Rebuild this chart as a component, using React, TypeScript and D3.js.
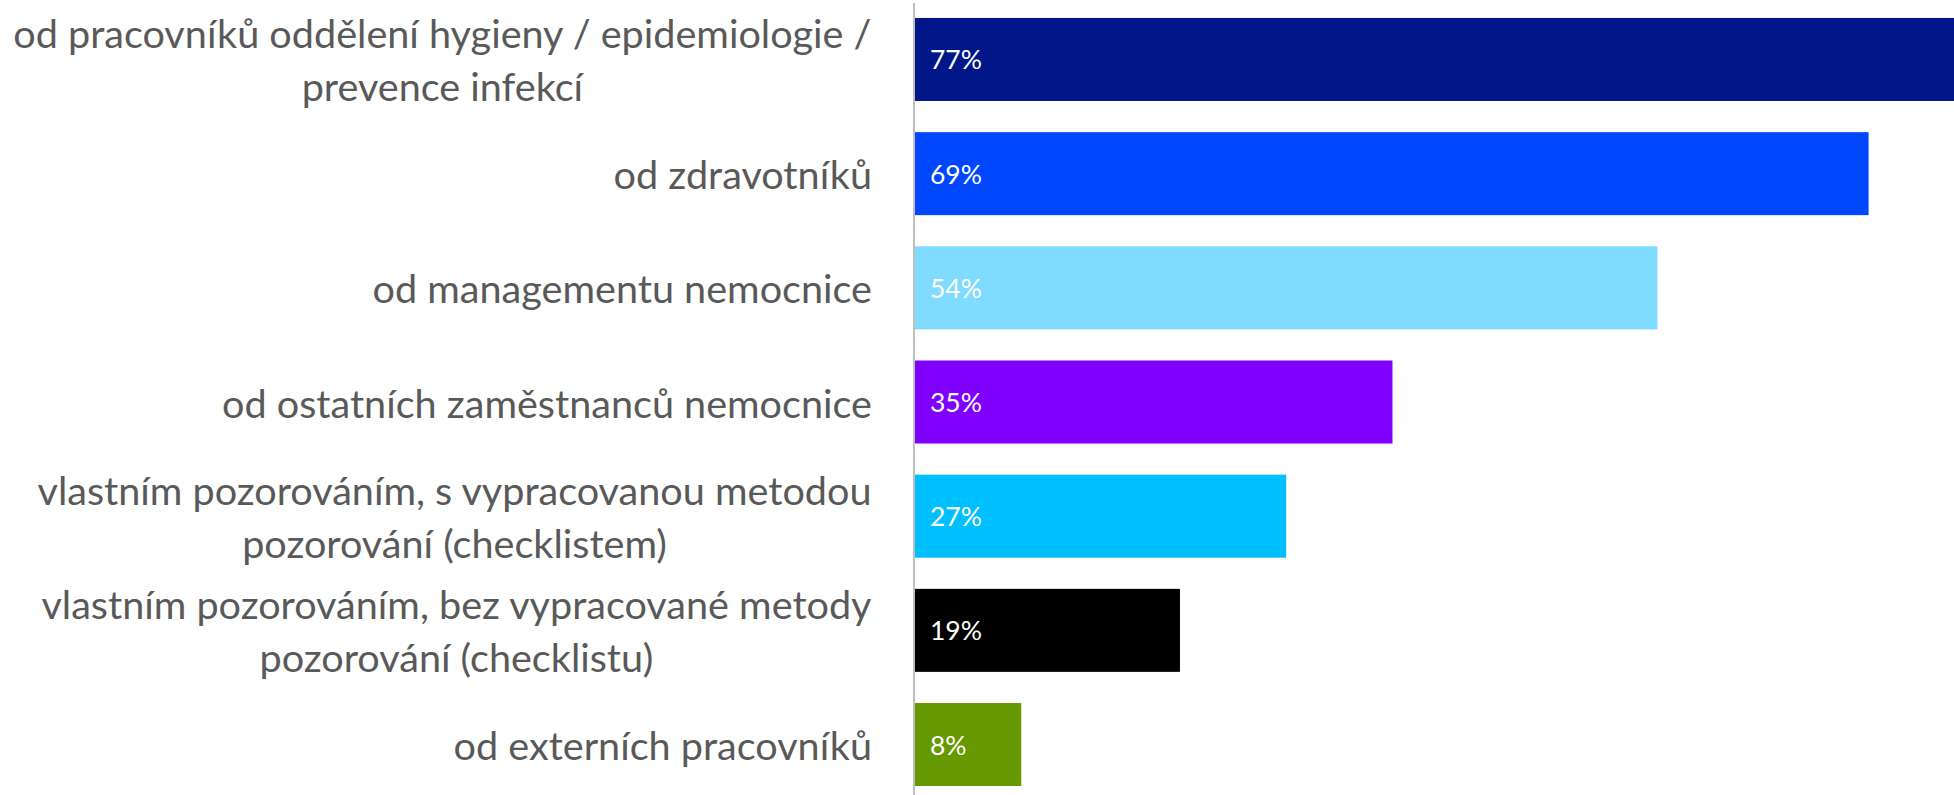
import React from "react";
import * as d3 from "d3";

const categories: string[] = [
  "od pracovníků oddělení hygieny / epidemiologie /\nprevence infekcí",
  "od zdravotníků",
  "od managementu nemocnice",
  "od ostatních zaměstnanců nemocnice",
  "vlastním pozorováním, s vypracovanou metodou\npozorování (checklistem)",
  "vlastním pozorováním, bez vypracované metody\npozorování (checklistu)",
  "od externích pracovníků",
];
const values: number[] = [77, 69.1, 53.8, 34.6, 26.9, 19.2, 7.7];
const valueLabels: string[] = ["77%", "69%", "54%", "35%", "27%", "19%", "8%"];
const colors: string[] = ["#001689", "#0047FF", "#7FDBFF", "#8000FF", "#00BFFF", "#000000", "#669900"];

const W = 1954;
const H = 795;
const FONT = "Lato, 'Open Sans', sans-serif";
const LABEL_SIZE = 39.6;

let ctx: CanvasRenderingContext2D | null = null;
function measure(s: string): number {
  if (!ctx) {
    const c = document.createElement("canvas");
    ctx = c.getContext("2d");
  }
  if (!ctx) return s.length * LABEL_SIZE * 0.45;
  ctx.font = `${LABEL_SIZE}px Lato, 'Open Sans', sans-serif`;
  return ctx.measureText(s).width;
}

export default function App() {
  const x = d3.scaleLinear().domain([0, 100]).range([915, 915 + 1380]);
  const y = d3
    .scaleBand<number>()
    .domain(d3.range(categories.length))
    .range([-13.2, 817.2])
    .padding(0.273);
  const bw = y.bandwidth();
  const lineH = 53;
  const labelRight = 872;

  return (
    <svg
      width={W}
      height={H}
      style={{ position: "absolute", left: 0, top: 0, background: "#fff" }}
      fontFamily={FONT}
    >
      {values.map((v, i) => (
        <rect
          key={"b" + i}
          x={x(0)}
          y={y(i)!}
          width={x(v) - x(0)}
          height={bw}
          fill={colors[i]}
        />
      ))}
      <line x1={914} x2={914} y1={3} y2={H} stroke="#bfbfbf" strokeWidth={2} />
      {values.map((v, i) => (
        <text
          key={"v" + i}
          x={x(0) + 15}
          y={y(i)! + bw / 2}
          dominantBaseline="central"
          fill="#ffffff"
          fontSize={26.5}
        >
          {valueLabels[i]}
        </text>
      ))}
      {categories.map((c, i) => {
        const lines = c.split("\n");
        const cy = y(i)! + bw / 2;
        const maxW = d3.max(lines, (l) => measure(l.trimEnd())) ?? 0;
        const cx = labelRight - maxW / 2;
        return (
          <text
            key={"c" + i}
            x={cx}
            textAnchor="middle"
            fill="#595959"
            fontSize={LABEL_SIZE}
          >
            {lines.map((ln, j) => (
              <tspan
                key={j}
                x={cx}
                y={cy + (j - (lines.length - 1) / 2) * lineH}
                dominantBaseline="central"
              >
                {ln}
              </tspan>
            ))}
          </text>
        );
      })}
    </svg>
  );
}
